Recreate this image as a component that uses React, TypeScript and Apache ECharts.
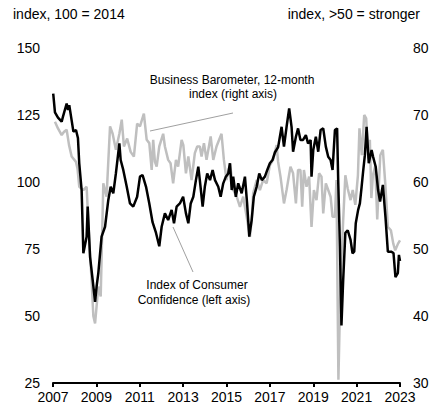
import React, { useEffect, useRef } from "react";
import * as echarts from "echarts";

// x values are years since 2007 (0 = Jan 2007, 16 = Jan 2023)
const startYear = 2007;
const xMin = 0;
const xMax = 16;

// Index of Consumer Confidence (left axis, 100 = 2014)
const ccTimes = [0.01, 0.09, 0.23, 0.4, 0.46, 0.63, 0.69, 0.75, 0.86, 0.94, 1.06, 1.15, 1.21, 1.32, 1.4, 1.55, 1.6, 1.71, 1.83, 1.94, 2.01, 2.09, 2.24, 2.4, 2.55, 2.66, 2.78, 2.9, 3.06, 3.12, 3.24, 3.4, 3.55, 3.7, 3.88, 4.01, 4.13, 4.29, 4.44, 4.59, 4.75, 4.9, 5.01, 5.16, 5.31, 5.47, 5.58, 5.7, 5.85, 6.0, 6.13, 6.24, 6.35, 6.47, 6.59, 6.7, 6.77, 6.9, 7.0, 7.11, 7.24, 7.36, 7.47, 7.62, 7.73, 7.85, 7.97, 8.08, 8.16, 8.24, 8.31, 8.43, 8.54, 8.7, 8.85, 8.95, 9.05, 9.16, 9.26, 9.39, 9.51, 9.63, 9.77, 9.88, 10.0, 10.12, 10.23, 10.38, 10.54, 10.65, 10.77, 10.89, 11.0, 11.07, 11.2, 11.3, 11.41, 11.53, 11.66, 11.76, 11.88, 11.92, 12.0, 12.12, 12.23, 12.34, 12.46, 12.58, 12.69, 12.8, 12.89, 13.0, 13.1, 13.15, 13.23, 13.3, 13.38, 13.48, 13.59, 13.72, 13.81, 13.89, 13.96, 14.07, 14.15, 14.23, 14.3, 14.38, 14.46, 14.56, 14.69, 14.76, 14.88, 14.99, 15.08, 15.21, 15.33, 15.44, 15.59, 15.7, 15.79, 15.9, 15.95, 16.0];
const ccValues = [133, 126, 124, 122.5, 124.4, 129.3, 126.9, 128.7, 123, 118.8, 119.4, 116.4, 107, 97, 73.4, 79.6, 90.8, 72, 63.4, 55.3, 61, 66, 79.6, 83.3, 93.3, 98.2, 95.8, 103.2, 114.4, 108.2, 104.5, 98.2, 92, 90.8, 94.5, 102, 102.6, 98.2, 92, 85, 81, 76, 83.3, 88.3, 85.8, 89.6, 84.6, 90.8, 92, 94.5, 88.3, 84.6, 92, 94.5, 100.7, 105.7, 100.7, 90.8, 98.2, 103.2, 100.7, 104.5, 100.7, 98.2, 94.5, 99.5, 102, 103.2, 107, 97, 102, 94.5, 99.5, 95.8, 102, 92, 79.6, 85.8, 94.5, 98.2, 103.2, 100.7, 102, 104.5, 107, 108.2, 111, 113, 120.6, 113.2, 120.6, 127.5, 120.6, 111.3, 116.9, 120, 115.7, 115.7, 117.5, 114.4, 115.7, 102, 111.9, 116.9, 111.3, 119.4, 120, 113.2, 109.4, 108.2, 104.5, 119.4, 120, 100.7, 75.9, 46.5, 63.4, 81, 82, 78.4, 73.4, 74, 84.6, 89.6, 92, 98.2, 104, 110, 120.6, 107, 111.9, 109.4, 105.7, 97, 92.7, 98.9, 87, 74, 74, 73.5, 64.5, 66, 72.8, 70.5];

// Business Barometer, 12-month index (right axis, >50 = stronger)
const bbTimes = [0.09, 0.23, 0.4, 0.51, 0.63, 0.74, 0.86, 1.06, 1.13, 1.21, 1.4, 1.55, 1.67, 1.78, 1.86, 1.94, 2.09, 2.2, 2.32, 2.47, 2.63, 2.75, 2.9, 3.06, 3.17, 3.27, 3.42, 3.58, 3.73, 3.88, 4.01, 4.19, 4.32, 4.44, 4.55, 4.62, 4.7, 4.78, 4.9, 5.08, 5.16, 5.31, 5.42, 5.54, 5.67, 5.77, 5.93, 6.01, 6.13, 6.24, 6.39, 6.54, 6.65, 6.77, 6.85, 6.96, 7.08, 7.27, 7.39, 7.54, 7.66, 7.77, 7.88, 8.0, 8.16, 8.31, 8.47, 8.62, 8.77, 8.93, 9.08, 9.16, 9.23, 9.39, 9.54, 9.69, 9.85, 10.0, 10.15, 10.31, 10.38, 10.49, 10.65, 10.77, 10.95, 11.07, 11.2, 11.3, 11.41, 11.49, 11.57, 11.69, 11.81, 11.92, 12.03, 12.15, 12.27, 12.38, 12.46, 12.58, 12.69, 12.8, 12.89, 13.0, 13.07, 13.16, 13.26, 13.38, 13.48, 13.59, 13.72, 13.82, 13.94, 14.06, 14.13, 14.24, 14.35, 14.44, 14.54, 14.61, 14.68, 14.75, 14.86, 14.95, 15.09, 15.21, 15.32, 15.44, 15.58, 15.69, 15.78, 15.91, 16.0];
const bbValues = [69, 68, 67, 67.5, 67.8, 65.5, 63.8, 63, 62, 59.3, 58.8, 59.3, 51.3, 45.4, 40, 38.9, 44.4, 42.9, 59.8, 57.8, 68.3, 67.2, 64.8, 67.2, 69.3, 65.3, 66.5, 64.5, 63.8, 68.7, 68.3, 70.2, 66.3, 65.8, 61.8, 66.3, 63, 62.3, 65.3, 67.2, 65.3, 63.3, 62.8, 59.8, 63.3, 62.3, 66.3, 65.5, 61.3, 63.8, 60.3, 64.3, 65.3, 65.3, 63.8, 65.8, 63.3, 66.8, 63.3, 65.3, 66.3, 67.2, 63.3, 60.3, 62.8, 58.8, 57.8, 56.3, 57.8, 54.8, 51.8, 54.3, 58.3, 60.3, 58.8, 60.3, 59.8, 62.5, 63.3, 65.5, 63, 60.8, 56.8, 58.8, 62.3, 61.3, 56.8, 61.8, 61.8, 56.3, 61.8, 59.3, 60.8, 53.3, 58.8, 57.3, 61.3, 60.8, 55.3, 59.8, 58.8, 57.8, 54.8, 54.8, 60.3, 30.5, 45.4, 54.3, 61, 59, 57.3, 58.8, 56.6, 61, 68, 64, 70, 69.5, 63.5, 66.3, 57.6, 61, 62.4, 54.4, 64, 64.8, 59.8, 53.3, 52.8, 50.8, 49.8, 50.8, 51.3];

const font = "'Liberation Sans', Arial, Helvetica, sans-serif";

export default function App() {
  const ref = useRef<HTMLDivElement>(null);
  useEffect(() => {
    const chart = echarts.init(ref.current!, null, { renderer: "svg" });
    const cc = ccTimes.map((t, i) => [t, ccValues[i]]);
    const bb = bbTimes.map((t, i) => [t, bbValues[i]]);
    chart.setOption({
      animation: false,
      backgroundColor: "#ffffff",
      textStyle: { fontFamily: font },
      grid: { left: 53, right: 34, top: 48, bottom: 28, containLabel: false },
      xAxis: {
        type: "value",
        min: xMin,
        max: xMax,
        interval: 2,
        axisLine: { show: true, onZero: false, lineStyle: { color: "#000", width: 2 } },
        axisTick: { show: true, length: 4, lineStyle: { color: "#000", width: 2 } },
        splitLine: { show: false },
        axisLabel: {
          color: "#000",
          fontSize: 14,
          fontFamily: font,
          margin: 7,
          formatter: (v: number) => String(startYear + v),
        },
      },
      yAxis: [
        {
          type: "value",
          min: 25,
          max: 150,
          interval: 25,
          position: "left",
          axisLine: { show: false },
          axisTick: { show: false },
          splitLine: { show: false },
          axisLabel: { color: "#000", fontSize: 14, fontFamily: font, margin: 13 },
        },
        {
          type: "value",
          min: 30,
          max: 80,
          interval: 10,
          position: "right",
          axisLine: { show: false },
          axisTick: { show: false },
          splitLine: { show: false },
          axisLabel: { color: "#000", fontSize: 14, fontFamily: font, margin: 13 },
        },
      ],
      series: [
        {
          name: "Business Barometer, 12-month index (right axis)",
          type: "line",
          yAxisIndex: 1,
          data: bb,
          showSymbol: false,
          symbol: "none",
          lineStyle: { color: "#bfbfbf", width: 2.5 },
          z: 2,
        },
        {
          name: "Index of Consumer Confidence (left axis)",
          type: "line",
          yAxisIndex: 0,
          data: cc,
          showSymbol: false,
          symbol: "none",
          lineStyle: { color: "#000000", width: 2.5 },
          z: 3,
        },
      ],
      graphic: [
        {
          type: "text",
          left: 13,
          top: 7,
          style: { text: "index, 100 = 2014", fill: "#000", font: `14px ${font}` },
        },
        {
          type: "text",
          right: 14,
          top: 7,
          style: { text: "index, >50 = stronger", fill: "#000", font: `14px ${font}` },
        },
        {
          type: "text",
          x: 232,
          y: 80,
          style: {
            text: "Business Barometer, 12-month",
            fill: "#000",
            font: `12px ${font}`,
            align: "center",
            verticalAlign: "middle",
          },
        },
        {
          type: "text",
          x: 233,
          y: 94,
          style: {
            text: "index (right axis)",
            fill: "#000",
            font: `12px ${font}`,
            align: "center",
            verticalAlign: "middle",
          },
        },
        {
          type: "text",
          x: 197,
          y: 285,
          style: {
            text: "Index of Consumer",
            fill: "#000",
            font: `12px ${font}`,
            align: "center",
            verticalAlign: "middle",
          },
        },
        {
          type: "text",
          x: 194,
          y: 300,
          style: {
            text: "Confidence (left axis)",
            fill: "#000",
            font: `12px ${font}`,
            align: "center",
            verticalAlign: "middle",
          },
        },
        {
          type: "line",
          shape: { x1: 150, y1: 131, x2: 233, y2: 113 },
          style: { stroke: "#a0a0a0", lineWidth: 1 },
          z: 10,
        },
        {
          type: "line",
          shape: { x1: 173, y1: 227, x2: 193, y2: 272 },
          style: { stroke: "#a0a0a0", lineWidth: 1 },
          z: 10,
        },
      ],
    });
    return () => chart.dispose();
  }, []);
  return (
    <div
      ref={ref}
      style={{ position: "absolute", left: 0, top: 0, width: 434, height: 411 }}
    />
  );
}
